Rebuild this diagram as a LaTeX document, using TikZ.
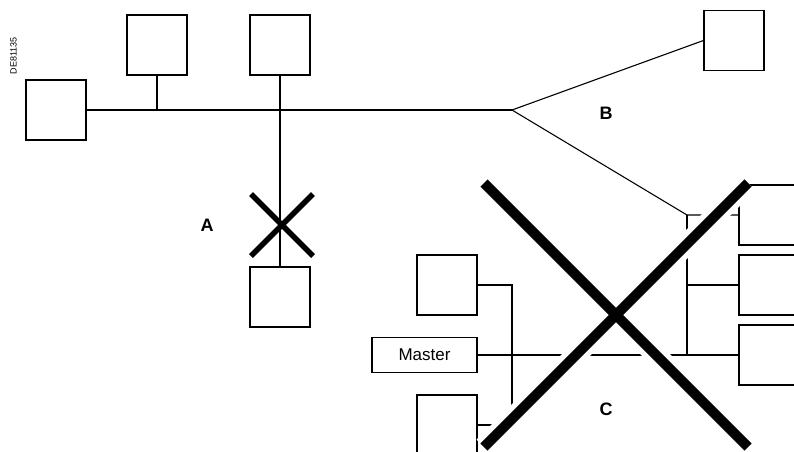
\documentclass[tikz,border=0pt]{standalone}
\usepackage{fontspec}
\setmainfont{Liberation Sans}
\begin{document}
\begin{tikzpicture}[x=1pt,y=-1pt,
  dev/.style={draw,line width=1.2pt,minimum size=60pt,inner sep=0pt},
  bus/.style={line width=1.1pt},
  cut/.style={line width=10pt},
  halo/.style={white,line width=21pt},
  tag/.style={font=\fontsize{18}{18}\selectfont\bfseries}]
\useasboundingbox (0,0) rectangle (794,451);
\node[rotate=90,font=\fontsize{9}{9}\selectfont] (ref) at (13.5,56) {DE81135};
\node[dev] (b1) at (56,110) {};
\node[dev] (b2) at (157,45) {};
\node[dev] (b3) at (280,45) {};
\node[dev] (b4) at (280,297) {};
\node[dev] (b5) at (734,40.5) {};
\node[dev] (r1) at (769,215) {};
\node[dev] (r2) at (769,285) {};
\node[dev] (r3) at (769,355) {};
\node[dev] (b8) at (447,285) {};
\node[dev] (b9) at (447,425) {};
\node[draw,line width=1.2pt,minimum width=105pt,minimum height=35pt,inner sep=0pt,
  font=\fontsize{17}{17}\selectfont] (mst) at (424.5,355) {Master};
\coordinate (J) at (512,110);
\coordinate (T) at (687,215);
\coordinate (D) at (512,285);
\draw[bus] (b1.east) -- (J);
\draw[bus] (b2.south) -- (b2.south |- J);
\draw[bus] (b3.south) -- (b4.north);
\draw[bus] (J) -- (b5.west);
\draw[bus] (J) -- (T) -- (r1.west);
\draw[bus] (T) -- (T |- r3.west);
\draw[bus] (T |- r2.west) -- (r2.west);
\draw[bus] (mst.east) -- (r3.west);
\draw[bus] (b8.east) -- (D) -- (D |- b9.east) -- (b9.east);
\draw[line width=5.5pt] (251,194) -- (313,256) (313,194) -- (251,256);
\draw[halo] (484,183) -- (748,447) (748,183) -- (484,447);
\draw[cut] (484,183) -- (748,447) (748,183) -- (484,447);
\node[tag] (lA) at (207,225) {A};
\node[tag] (lB) at (606,113) {B};
\node[tag] (lC) at (606,409) {C};
\end{tikzpicture}
\end{document}
